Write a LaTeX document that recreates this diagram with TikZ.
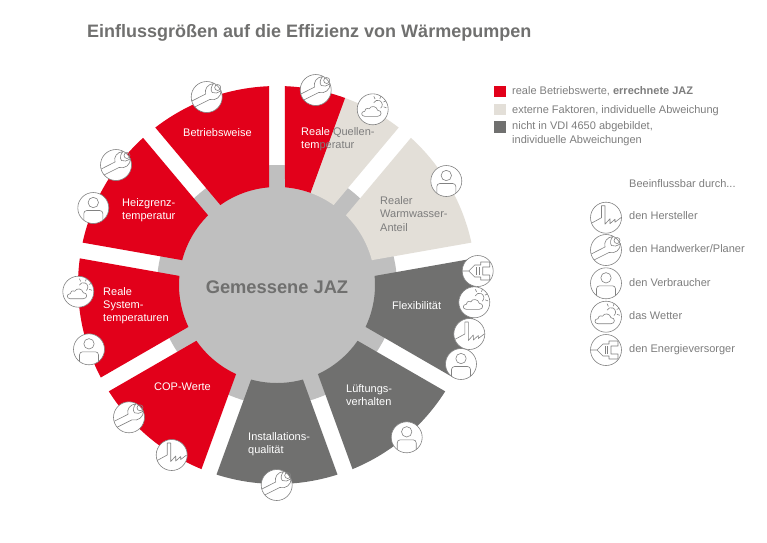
\documentclass[tikz,border=0pt]{standalone}
\usepackage{fontspec}
\setmainfont{Liberation Sans}

\definecolor{jazred}{RGB}{226,0,26}
\definecolor{jazbeige}{RGB}{227,223,216}
\definecolor{jazdark}{RGB}{112,112,111}
\definecolor{jazdisc}{RGB}{191,191,191}
\definecolor{jaztext}{RGB}{125,125,125}
\definecolor{jazline}{RGB}{130,130,130}

\tikzset{
  sectortext/.style={anchor=west, align=left, inner sep=0pt, font=\fontsize{11}{13.3}\selectfont},
  legendtext/.style={anchor=west, align=left, inner sep=0pt, text=jaztext, font=\fontsize{11}{14}\selectfont},
  legendbox/.style={minimum size=11.5pt, inner sep=0pt},
  iconframe/.style={draw=jazline, fill=white, line width=0.6pt},
  iconline/.style={draw=jazline, line width=0.6pt, line join=round},
  iconfactory/.pic={
    \path[iconframe] (0,0) circle (15.5);
    \draw[iconline] (-14.6,-5.5) -- (-4.5,0) -- (-4.5,12) -- (-1,12) -- (-1,-6.5) -- (4,-1)
      -- (4,-6) -- (9,-1.5) -- (9,-4.5) -- (14.9,0);
  },
  iconwrench/.pic={
    \path[iconframe] (0,0) circle (15.5);
    \draw[iconline] (-14.8,-4) -- (-1,3) .. controls (-2.5,8) and (1,13) .. (7,13.5)
      .. controls (4.5,11) and (3.5,7) .. (5.5,4.5) .. controls (8,3) and (11,4) .. (14.5,6.5)
      .. controls (14.5,0) and (9,-4) .. (3,-2.5) -- (-12,-10);
    \draw[iconline] (11,9.5) circle (3);
  },
  iconperson/.pic={
    \path[iconframe] (0,0) circle (15.5);
    \draw[iconline] (0,5.5) circle (5.2);
    \draw[iconline, rounded corners=3] (-9.5,-12.2) -- (-9.5,-2.5) -- (9.5,-2.5) -- (9.5,-12.2);
  },
  iconweather/.pic={
    \path[iconframe] (0,0) circle (15.5);
    \draw[iconline] (-8,-7) -- (5,-7) .. controls (9.5,-7) and (9.5,-1) .. (5,-1)
      .. controls (4,3.5) and (-2,4) .. (-3.5,0.5) .. controls (-6.5,1.5) and (-8,0) .. (-8,-2)
      .. controls (-12,-2) and (-12,-7) .. (-8,-7) -- cycle;
    \draw[iconline] (1,6.5) arc[start angle=155, end angle=-50, radius=4.5];
    \foreach \a in {-20,25,70,115} {
      \draw[iconline] (5,4.6) ++(\a:6.3) -- ++(\a:3);
    }
  },
  iconplug/.pic={
    \path[iconframe] (0,0) circle (15.5);
    \draw[iconline] (-15.2,0) -- (-9,0) -- (-3,6) -- (3,6) -- (3,9) -- (12,9) -- (12,4) -- (5,4)
      -- (5,-4) -- (12,-4) -- (12,-9) -- (3,-9) -- (3,-6) -- (-3,-6) -- (-9,0);
    \draw[iconline] (-1,-4) -- (-1,4);
    \draw[iconline] (1.5,-4) -- (1.5,4);
  }
}

% Ring sector with parallel white gaps: start angle, end angle, colour
\newcommand{\ringsector}[3]{
  \fill[#3] ({#1+2.3}:199) arc[start angle={#1+2.3}, end angle={#2-2.3}, radius=199]
    -- ({#2-4.68}:98) arc[start angle={#2-4.68}, end angle={#1+4.68}, radius=98] -- cycle;
}

\begin{document}
\begin{tikzpicture}[x=1pt,y=1pt]

\useasboundingbox (0,0) rectangle (767,-542);

% Disc and ring sectors
\begin{scope}[shift={(277,-285)}]
\fill[jazdisc] (0,0) circle (120);
\foreach \a/\c in {10/jazbeige, 50/jazbeige, 90/jazred, 130/jazred, 170/jazred, 210/jazred,
  250/jazdark, 290/jazdark, 330/jazdark} {
  \ringsector{\a}{\a+40}{\c}
}
% Red half of the sector on top
\fill[jazred] (70:199) arc[start angle=70, end angle=87.7, radius=199]
  -- (85.32:98) arc[start angle=85.32, end angle=70, radius=98] -- cycle;
\end{scope}

% Title
\node[anchor=west, inner sep=0pt, text=jazdark, font=\fontsize{18}{20}\selectfont\bfseries] (title) at (87,-33)
  {Einflussgrößen auf die Effizienz von Wärmepumpen};

% Centre label
\node[inner sep=0pt, text=jazdark, font=\fontsize{18.3}{20}\selectfont\bfseries] (jaz) at (277,-287) {Gemessene JAZ};

% Sector labels
\node[sectortext, text=white] (betrieb) at (183,-133) {Betriebsweise};
\node[sectortext, text=white] (heiz) at (122,-210) {Heizgrenz-\\temperatur};
\node[sectortext, text=white] (system) at (103,-305.5) {Reale\\System-\\temperaturen};
\node[sectortext, text=white] (cop) at (154,-387) {COP-Werte};
\node[sectortext, text=white] (install) at (248,-444) {Installations-\\qualität};
\node[sectortext, text=white] (lueftung) at (346,-395) {Lüftungs-\\verhalten};
\node[sectortext, text=white] (flex) at (392,-306) {Flexibilität};
\node[sectortext, text=jaztext] (wasser) at (380,-214) {Realer\\Warmwasser-\\Anteil};
\node[sectortext, text=jaztext] (quelle) at (301,-139)
  {\textcolor{white}{Reale} Quellen-\\\textcolor{white}{tem}peratur};

% Icons on the rim
\foreach \x/\y in {206.7/97, 116/165, 315.7/90, 129/417.3, 276.7/485} {
  \pic at (\x,-\y) {iconwrench};
}
\foreach \x/\y in {93.3/208, 446.3/181, 89/349.3, 461/364, 406.7/437.3} {
  \pic at (\x,-\y) {iconperson};
}
\foreach \x/\y in {372.7/109.3, 78.3/291.7, 474.3/302.3} {
  \pic at (\x,-\y) {iconweather};
}
\foreach \x/\y in {171.7/455, 469.3/334} {
  \pic at (\x,-\y) {iconfactory};
}
\pic at (477.7,-271) {iconplug};

% Colour legend
\node[legendbox, fill=jazred] (boxred) at (500,-91.5) {};
\node[legendbox, fill=jazbeige] (boxbeige) at (500,-109.5) {};
\node[legendbox, fill=jazdark] (boxdark) at (500,-127) {};
\node[legendtext] (textred) at (512,-91.5) {reale Betriebswerte, \textbf{errechnete JAZ}};
\node[legendtext] (textbeige) at (512,-110.5) {externe Faktoren, individuelle Abweichung};
\node[legendtext] (textdark) at (512,-133.5) {nicht in VDI 4650 abgebildet,\\individuelle Abweichungen};

% Icon legend
\node[legendtext] (durch) at (629,-183.5) {Beeinflussbar durch...};
\pic at (606,-217.7) {iconfactory};
\pic at (606,-250) {iconwrench};
\pic at (606,-283.3) {iconperson};
\pic at (606,-316.7) {iconweather};
\pic at (606,-350) {iconplug};
\node[legendtext] (hersteller) at (629,-216) {den Hersteller};
\node[legendtext] (handwerker) at (629,-249) {den Handwerker/Planer};
\node[legendtext] (verbraucher) at (629,-283) {den Verbraucher};
\node[legendtext] (wetter) at (629,-316) {das Wetter};
\node[legendtext] (versorger) at (629,-350) {den Energieversorger};

\end{tikzpicture}
\end{document}
